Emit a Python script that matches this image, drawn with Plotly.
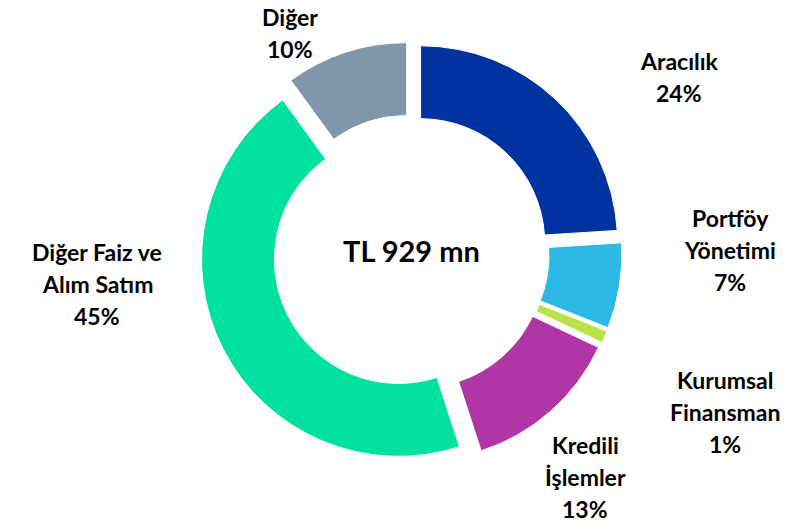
import plotly.graph_objects as go

categories = ["Aracılık", "Portföy Yönetimi", "Kurumsal Finansman", "Kredili İşlemler",
              "Diğer Faiz ve Alım Satım", "Diğer"]
values = [24, 7, 1, 13, 45, 10]
label_lines = [["Aracılık"], ["Portföy", "Yönetimi"], ["Kurumsal", "Finansman"],
               ["Kredili", "İşlemler"], ["Diğer Faiz ve", "Alım Satım"], ["Diğer"]]
colors = ["#0033A0", "#2CB9E6", "#B7E347", "#B036A6", "#00E09F", "#8096AB"]
center_text = "TL 929 mn"

W, H = 798, 523
OFF = 8            # page body margin offset
R = 197            # outer radius (px)
PULL = 0.071       # explosion as fraction of radius
D = round(2 * R * (1 + PULL))  # pie domain size
CX, CY = 411.5 - OFF, 253 - OFF
ML, MT = round(CX - D / 2), round(CY - D / 2)
MR, MB = W - ML - D, H - MT - D
PW, PH = D, D

# label block centres (pixels in the final picture) and line spacing
label_pos = [(679, 77), (730, 250), (725, 412), (585, 477), (97, 284), (290, 33)]
line_gap = 32

fig = go.Figure(go.Pie(
    labels=categories, values=values, hole=0.63, sort=False, direction="clockwise",
    rotation=0, pull=PULL,
    marker=dict(colors=colors, line=dict(color="white", width=1)),
    textinfo="none", hoverinfo="label+percent", showlegend=False,
))

FAM = "Lato, 'Open Sans', sans-serif"
font = dict(family=FAM, size=23, color="black")
annotations = []
for lines, v, (cx, cy) in zip(label_lines, values, label_pos):
    all_lines = lines + [f"{v}%"]
    n = len(all_lines)
    for i, t in enumerate(all_lines):
        x = cx - OFF
        y = cy + (i - (n - 1) / 2) * line_gap - OFF
        annotations.append(dict(
            text=f"<b>{t}</b>", x=(x - ML) / PW, y=(H - MB - y) / PH,
            xref="paper", yref="paper", xanchor="center", yanchor="middle",
            showarrow=False, font=font))
annotations.append(dict(
    text=f"<b>{center_text}</b>", x=(411.5 - OFF - ML) / PW, y=(H - MB - (251 - OFF)) / PH,
    xref="paper", yref="paper", xanchor="center", yanchor="middle",
    showarrow=False, font=dict(family=FAM, size=29, color="black")))

fig.update_layout(
    width=W, height=H, margin=dict(l=ML, r=MR, t=MT, b=MB),
    paper_bgcolor="white", plot_bgcolor="white", annotations=annotations,
)
fig.write_html("out.html")
